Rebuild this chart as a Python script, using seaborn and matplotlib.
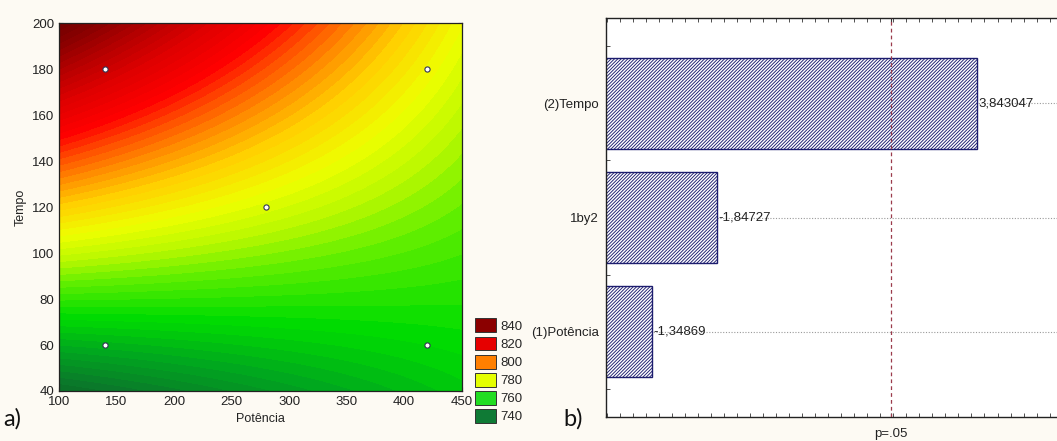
import numpy as np
import pandas as pd
import matplotlib
matplotlib.use("Agg")
import matplotlib.pyplot as plt
from matplotlib.colors import LinearSegmentedColormap
from matplotlib.patches import Patch
import seaborn as sns

# ---- response surface: fitted first-order model with interaction (coded units)
b0 = 780.0          # intercept
b_pot = -9.3        # Potência
b_tempo = 26.5      # Tempo
b_inter = -12.8     # Potência x Tempo
pot_center, pot_step = 280.0, 140.0
tempo_center, tempo_step = 120.0, 60.0

# experimental design points
design_pot = [140, 140, 420, 420, 280]
design_tempo = [60, 180, 60, 180, 120]

# legend of the contour map
legend_values = [840, 820, 800, 780, 760, 740]
legend_colors = ["#8b0000", "#e60000", "#ff7f00", "#e5ff00", "#22dd22", "#0f7a35"]

# ---- Pareto chart of standardized effects
effect_names = ["(2)Tempo", "1by2", "(1)Potência"]
effect_t = [3.843047, -1.84727, -1.34869]
effect_labels = ["3,843047", "-1,84727", "-1,34869"]
t_crit = 3.182

sns.set_style("ticks")
plt.rcParams["font.family"] = ["Liberation Sans Narrow", "Liberation Sans", "DejaVu Sans"]
plt.rcParams["hatch.linewidth"] = 0.65

bg = "#fdfaf3"
fig = plt.figure(figsize=(10.57, 4.41), dpi=100, facecolor=bg)

# ================= contour panel =================
ax1 = fig.add_axes([0.0558, 0.1134, 0.381, 0.8338])
P = np.linspace(100, 450, 300)
T = np.linspace(40, 200, 300)
PP, TT = np.meshgrid(P, T)
x1 = (PP - pot_center) / pot_step
x2 = (TT - tempo_center) / tempo_step
Z = b0 + b_pot * x1 + b_tempo * x2 + b_inter * x1 * x2

anchors = [
    (725, "#0a4a1c"), (738, "#0a7a2a"), (748, "#00a81e"), (758, "#00dd00"),
    (768, "#60ee00"), (775, "#b8f800"), (783, "#eeff00"), (792, "#ffd000"),
    (800, "#ff8c00"), (807, "#ff4c00"), (814, "#ff0000"), (824, "#e00000"),
    (834, "#b40000"), (843, "#880000"), (855, "#600000"),
]
lo, hi = anchors[0][0], anchors[-1][0]
cmap = LinearSegmentedColormap.from_list(
    "surf", [((v - lo) / (hi - lo), c) for v, c in anchors])
levels = np.arange(lo, hi + 1, 2.0)
ax1.contourf(PP, TT, Z, levels=levels, cmap=cmap, vmin=lo, vmax=hi, extend="both")

pts = pd.DataFrame({"Potência": design_pot, "Tempo": design_tempo})
sns.scatterplot(data=pts, x="Potência", y="Tempo", ax=ax1, s=14, color="white",
                edgecolor="#333355", linewidth=0.8, zorder=5)

ax1.set_xlim(100, 450)
ax1.set_ylim(40, 200)
ax1.set_xticks(np.arange(100, 451, 50))
ax1.set_yticks(np.arange(40, 201, 20))
ax1.tick_params(direction="in", top=True, right=True, length=3, labelsize=9.5,
                color="#333333", labelcolor="#222222")
ax1.set_xlabel("Potência", fontsize=9, labelpad=4, color="#222222")
ax1.set_ylabel("Tempo", fontsize=9, labelpad=4, color="#222222")
for s in ax1.spines.values():
    s.set_linewidth(0.9)
    s.set_color("#222222")

handles = [Patch(facecolor=c, edgecolor="#333333", linewidth=0.7) for c in legend_colors]
fig.legend(handles, [str(v) for v in legend_values], loc="lower left",
           bbox_to_anchor=(0.441, 0.019), frameon=False, fontsize=9.5,
           handlelength=1.6, handleheight=1.25, labelspacing=0.28,
           handletextpad=0.3, borderpad=0.2)

fig.text(0.003, 0.035, "a)", fontsize=17, family=["Lato", "DejaVu Sans"], color="#111111")
fig.text(0.533, 0.035, "b)", fontsize=17, family=["Lato", "DejaVu Sans"], color="#111111")

# ================= Pareto panel =================
x_left = 0.993
x_right = x_left + (1057 - 605.7) / 130.3
ax2 = fig.add_axes([0.573, 0.0537, 1.0 - 0.573, 0.906])
ax2.set_facecolor("white")

for i in range(len(effect_names)):
    ax2.axhline(i, color="#9a9a9a", linestyle=(0, (1, 1.5)), linewidth=0.8, zorder=0)

eff = pd.DataFrame({"effect": effect_names, "abs_t": np.abs(effect_t)})
sns.barplot(data=eff, x="abs_t", y="effect", orient="h", ax=ax2, width=0.8,
            color="white", edgecolor="#1c1c6e", linewidth=1.0, hatch="//////////",
            zorder=2)
for bar in ax2.patches:
    bar.set_facecolor("white")
    bar.set_edgecolor("#1c1c6e")

for i, (v, lab) in enumerate(zip(np.abs(effect_t), effect_labels)):
    ax2.text(v + 0.01, i, lab, va="center", ha="left", fontsize=9.5, color="#222222",
             zorder=3)

ax2.axvline(t_crit, color="#9b3b4b", linestyle=(0, (3, 2.5)), linewidth=0.9, zorder=4)

ax2.set_xlim(x_left, x_right)
ax2.set_ylim(2.75, -0.75)
ax2.set_xlabel("")
ax2.set_ylabel("")
ax2.set_xticks([t_crit])
ax2.set_xticklabels(["p=.05"])
ax2.set_xticks(np.arange(1.0, x_right, 0.1), minor=True)
ax2.set_yticks([-0.5, 0.5, 1.5, 2.5], minor=True)
ax2.tick_params(axis="x", which="major", direction="in", length=3, pad=8,
                labelsize=9.5, top=True, color="#333333", labelcolor="#222222")
ax2.tick_params(axis="x", which="minor", direction="in", length=3, top=True,
                color="#333333")
ax2.tick_params(axis="y", which="both", direction="in", length=3, labelsize=9.5,
                color="#333333", labelcolor="#222222", pad=5)
ax2.spines["right"].set_visible(False)
for s in ["left", "top", "bottom"]:
    ax2.spines[s].set_linewidth(1.0)
    ax2.spines[s].set_color("#222222")

fig.savefig("out.png", dpi=100, facecolor=bg)
